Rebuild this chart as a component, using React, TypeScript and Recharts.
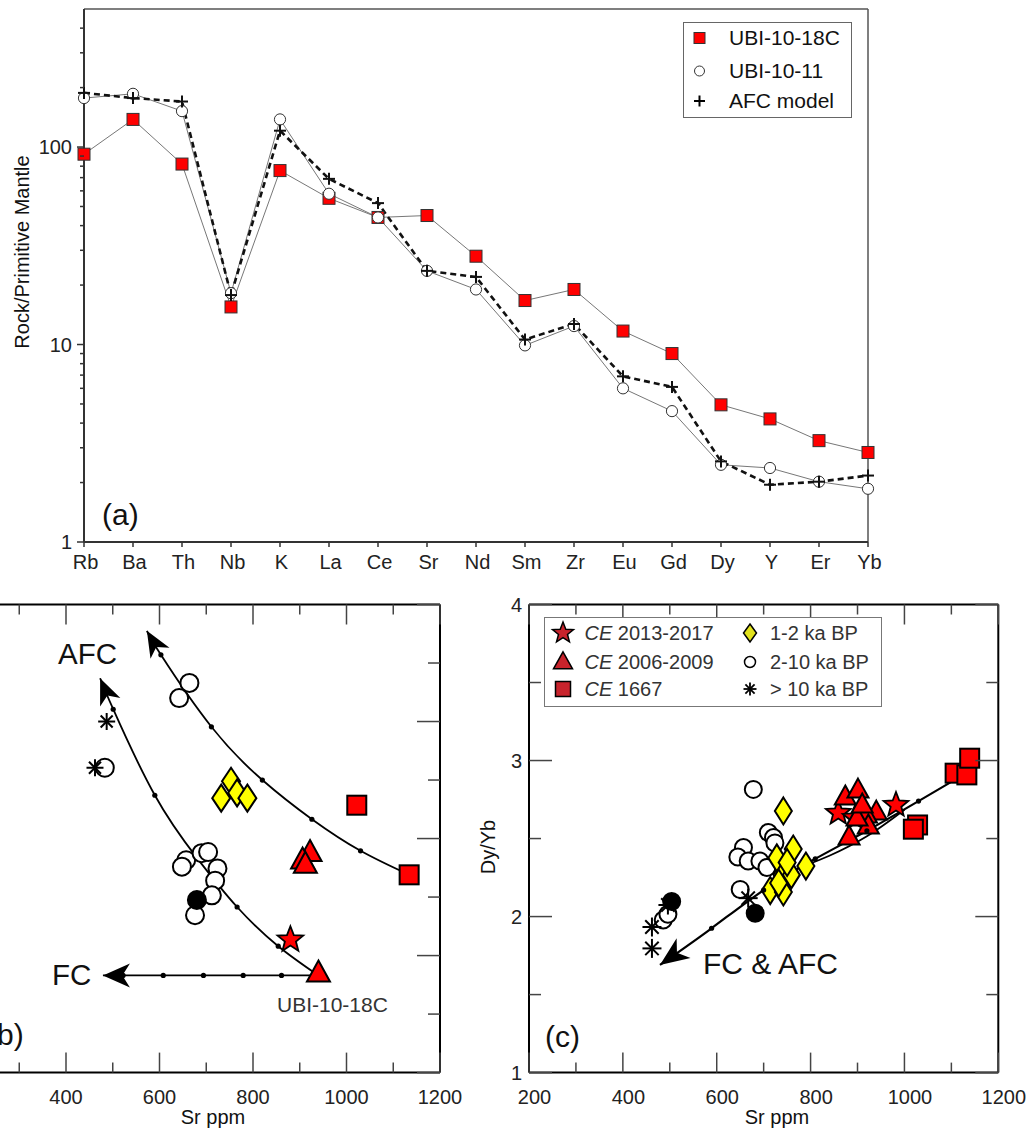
import React from "react";
import { ComposedChart, Line, Scatter, XAxis, YAxis, Legend, ReferenceLine } from "recharts";

const FONT = '"Liberation Sans", Arial, Helvetica, sans-serif';
const RED = "#ff0000";
const YELLOW = "#ffff00";
const LEGEND_RED = "#c8232c";

// ---- (a) primitive-mantle normalised spider diagram ----
const ELEMENTS = ["Rb", "Ba", "Th", "Nb", "K", "La", "Ce", "Sr", "Nd", "Sm", "Zr", "Eu", "Gd", "Dy", "Y", "Er", "Yb"];
const UBI_18C = [92, 138, 82, 15.5, 76, 55, 44, 45, 28, 16.7, 19, 11.7, 9, 4.95, 4.2, 3.26, 2.84];
const UBI_11 = [177, 186, 152, 18.2, 138, 58, 44, 23.6, 19, 9.9, 12.4, 6.0, 4.6, 2.46, 2.37, 2.02, 1.86];
const AFC_MODEL = [188, 177, 170, 17.8, 121, 69, 52, 23.6, 22, 10.6, 12.7, 6.9, 6.1, 2.56, 1.95, 2.02, 2.17];
const SPIDER_TICKS = [1, 2, 3, 4, 5, 6, 7, 8, 9, 10, 20, 30, 40, 50, 60, 70, 80, 90, 100, 200, 300, 400];
const ELEMENT_TICKS = ELEMENTS.map((_, i) => i);

// ---- shared Sr axis ----
const SR_TICKS = [200, 300, 400, 500, 600, 700, 800, 900, 1000, 1100, 1200];

// ---- (b) 87Sr/86Sr vs Sr ----
const ISO_TICKS = [0.7062, 0.7063, 0.7064, 0.7065, 0.7066, 0.7067, 0.7068, 0.7069, 0.707];
const B_CE1667 = [[1134, 0.706538], [1022, 0.706657]];
const B_CE2006 = [[940, 0.70637], [922, 0.706576], [906, 0.706563], [912, 0.706556]];
const B_CE2013 = [[880, 0.706427]];
const B_KA1_2 = [[753, 0.706698], [766, 0.706678], [732, 0.706669], [788, 0.706669]];
const B_KA2_10 = [[664, 0.706866], [642, 0.70684], [657, 0.706563], [648, 0.706552], [690, 0.706575], [704, 0.706577], [724, 0.706549], [719, 0.706528], [712, 0.706503], [676, 0.706469], [483, 0.706721]];
const B_FILLED = [[680, 0.706495]];
const B_KA10 = [[487, 0.7068], [462, 0.706721]];
const B_FC = [[940, 0.706366], [861, 0.706366], [779, 0.706366], [694, 0.706366], [608, 0.706366], [522, 0.706366], [479, 0.706366]];
const B_AFC_LOW = [[940, 0.706366], [854, 0.706416], [766, 0.706483], [680, 0.706567], [590, 0.706674], [501, 0.706821], [473, 0.706874]];
const B_AFC_HIGH = [[1134, 0.706538], [1030, 0.706579], [926, 0.706633], [820, 0.7067], [711, 0.706791], [603, 0.706914], [573, 0.706955]];

// ---- (c) Dy/Yb vs Sr ----
const DYYB_TICKS = [1, 1.5, 2, 2.5, 3, 3.5, 4];
const C_CE1667 = [[1108, 2.919], [1133, 2.908], [1139, 3.015], [1028, 2.587], [1019, 2.56]];
const C_CE2006 = [[874, 2.767], [901, 2.811], [940, 2.67], [919, 2.651], [923, 2.581], [882, 2.51], [899, 2.632], [910, 2.715]];
const C_CE2013 = [[859, 2.664], [982, 2.715], [895, 2.632]];
const C_KA1_2 = [[742, 2.677], [763, 2.433], [790, 2.324], [739, 2.27], [759, 2.267], [728, 2.376], [750, 2.347], [714, 2.167], [742, 2.158], [732, 2.215]];
const C_KA2_10 = [[678, 2.815], [710, 2.539], [721, 2.507], [724, 2.472], [657, 2.443], [645, 2.382], [667, 2.356], [692, 2.356], [707, 2.315], [650, 2.174], [486, 1.978], [496, 2.015]];
const C_FILLED = [[504, 2.096], [682, 2.021]];
const C_KA10 = [[462, 1.933], [462, 1.796], [496, 2.074], [667, 2.118]];
const C_FC_AFC = [[1098, 2.86], [1030, 2.74], [920, 2.55], [810, 2.37], [700, 2.17], [589, 1.925], [479, 1.69]];
const C_AFC_BRANCH = [[1000, 2.685], [920, 2.515], [840, 2.39], [790, 2.33]];

const toPts = (rows: number[][]) => rows.map(([sr, v]) => ({ sr, v }));

const spiderData = ELEMENTS.map((el, i) => ({ i, el, s18: UBI_18C[i], s11: UBI_11[i], afc: AFC_MODEL[i] }));

// ---- marker shapes ----
function Square({ cx, cy, size, fill, stroke = "#000", sw = 2 }: any) {
  return <rect x={cx - size / 2} y={cy - size / 2} width={size} height={size} fill={fill} stroke={stroke} strokeWidth={sw} />;
}
function Triangle({ cx, cy, w, h, fill, stroke = "#000", sw = 2 }: any) {
  const top = cy - h * 0.6;
  const base = cy + h * 0.4;
  return <polygon points={`${cx},${top} ${cx + w / 2},${base} ${cx - w / 2},${base}`} fill={fill} stroke={stroke} strokeWidth={sw} />;
}
function Star({ cx, cy, r, fill, stroke = "#000", sw = 1.8 }: any) {
  const pts: string[] = [];
  for (let k = 0; k < 10; k++) {
    const rad = k % 2 === 0 ? r : r * 0.43;
    const a = -Math.PI / 2 + (k * Math.PI) / 5;
    pts.push(`${cx + rad * Math.cos(a)},${cy + rad * Math.sin(a)}`);
  }
  return <polygon points={pts.join(" ")} fill={fill} stroke={stroke} strokeWidth={sw} />;
}
function Diamond({ cx, cy, w, h, fill, stroke = "#000", sw = 2 }: any) {
  return <polygon points={`${cx},${cy - h / 2} ${cx + w / 2},${cy} ${cx},${cy + h / 2} ${cx - w / 2},${cy}`} fill={fill} stroke={stroke} strokeWidth={sw} />;
}
function Ring({ cx, cy, r, fill = "#fff", stroke = "#000", sw = 2 }: any) {
  return <circle cx={cx} cy={cy} r={r} fill={fill} stroke={stroke} strokeWidth={sw} />;
}
function Asterisk({ cx, cy, r, sw = 2, stroke = "#000" }: any) {
  const d = r * Math.SQRT1_2;
  return (
    <g stroke={stroke} strokeWidth={sw}>
      <line x1={cx - r} y1={cy} x2={cx + r} y2={cy} />
      <line x1={cx} y1={cy - r} x2={cx} y2={cy + r} />
      <line x1={cx - d} y1={cy - d} x2={cx + d} y2={cy + d} />
      <line x1={cx - d} y1={cy + d} x2={cx + d} y2={cy - d} />
    </g>
  );
}
function Plus({ cx, cy, r, sw = 2, stroke = "#000" }: any) {
  return (
    <g stroke={stroke} strokeWidth={sw}>
      <line x1={cx - r} y1={cy} x2={cx + r} y2={cy} />
      <line x1={cx} y1={cy - r} x2={cx} y2={cy + r} />
    </g>
  );
}

// model curve: small dots at the steps, arrowhead at the end
function curveDot(len: number, half: number) {
  return (p: any) => {
    const { cx, cy, index, points } = p;
    const key = `cd-${index}`;
    const n = points ? points.length : 0;
    if (index === 0 || cx == null) return <g key={key} />;
    if (index === n - 1) {
      const prev = points[n - 2];
      const dx = cx - prev.x;
      const dy = cy - prev.y;
      const d = Math.hypot(dx, dy) || 1;
      const ux = dx / d;
      const uy = dy / d;
      const bx = cx - ux * len;
      const by = cy - uy * len;
      const nx = cx - ux * len * 0.72;
      const ny = cy - uy * len * 0.72;
      return (
        <polygon
          key={key}
          points={`${cx},${cy} ${bx - uy * half},${by + ux * half} ${nx},${ny} ${bx + uy * half},${by - ux * half}`}
          fill="#000"
        />
      );
    }
    return <circle key={key} cx={cx} cy={cy} r={2.6} fill="#000" />;
  };
}

// ---- axis ticks drawn inward / outward with custom lengths ----
type Side = "bottom" | "top" | "left" | "right";
const DIRS: Record<Side, [number, number]> = { bottom: [0, -1], top: [0, 1], left: [1, 0], right: [-1, 0] };

function frameTick(
  side: Side,
  isMajor: (v: number) => boolean,
  long: number,
  short: number,
  opts: { outward?: boolean; label?: (v: number) => string | null; gap?: number; dx?: number; color?: string } = {}
) {
  return (props: any) => {
    const { x, y, payload, index } = props;
    const v = payload.value as number;
    const len = isMajor(v) ? long : short;
    const [ux, uy] = DIRS[side];
    const s = opts.outward ? -1 : 1;
    const text = opts.label ? opts.label(v) : null;
    const gap = opts.gap ?? 0;
    let label = null;
    if (text !== null) {
      label =
        side === "bottom" ? (
          <text x={x + (opts.dx ?? 0)} y={y + gap} textAnchor="middle" fontSize={20} fill="#222" fontFamily={FONT}>
            {text}
          </text>
        ) : (
          <text x={x - gap} y={y} dy="0.35em" textAnchor="end" fontSize={20} fill="#222" fontFamily={FONT}>
            {text}
          </text>
        );
    }
    return (
      <g key={`t-${side}-${index}`}>
        <line x1={x} y1={y} x2={x + s * ux * len} y2={y + s * uy * len} stroke={opts.color ?? "#444"} strokeWidth={1.5} />
        {label}
      </g>
    );
  };
}

const srMajor = (v: number) => v % 200 === 0;
const srLabel = (v: number) => (v % 200 === 0 ? String(v) : null);
const srLabelCut = (v: number) => (v % 200 === 0 && v > 200 ? String(v) : null);
const isoMajor = (v: number) => Math.round(v * 1e4) % 2 === 0;
const dyMajor = (v: number) => Number.isInteger(v);
const frameLine = { stroke: "#000", strokeWidth: 2 };
const hiddenShape = () => <g />;

// ---- legends ----
function SpiderLegend() {
  const rows = [
    { y: 14.5, label: "UBI-10-18C", sym: <Square cx={15.5} cy={12} size={11} fill={RED} stroke="#333" sw={1} /> },
    { y: 47.5, label: "UBI-10-11", sym: <Ring cx={15.5} cy={12} r={5} stroke="#333" sw={1} /> },
    { y: 77.5, label: "AFC model", sym: <Plus cx={15.5} cy={12} r={5.5} sw={2} /> },
  ];
  return (
    <div style={{ position: "relative", width: 169, height: 96, boxSizing: "border-box", border: "1.5px solid #666", background: "#fff", fontFamily: FONT, fontSize: 21, color: "#111" }}>
      {rows.map((r) => (
        <div key={r.label} style={{ position: "absolute", left: 0, top: r.y - 12, height: 24, width: 166 }}>
          <svg width={31} height={24} style={{ position: "absolute", left: 0, top: 0 }}>
            {r.sym}
          </svg>
          <span style={{ position: "absolute", left: 45, top: 0, lineHeight: "24px", whiteSpace: "nowrap" }}>{r.label}</span>
        </div>
      ))}
    </div>
  );
}

function PhaseLegend() {
  const items = [
    { x: 17.8, tx: 39.5, y: 15, label: <><i>CE</i> 2013-2017</>, sym: <Star cx={14} cy={14} r={11} fill={LEGEND_RED} sw={1.5} /> },
    { x: 17.8, tx: 39.5, y: 43.5, label: <><i>CE</i> 2006-2009</>, sym: <Triangle cx={14} cy={14} w={19} h={17} fill={LEGEND_RED} sw={1.5} /> },
    { x: 17.8, tx: 39.5, y: 71.3, label: <><i>CE</i> 1667</>, sym: <Square cx={14} cy={14} size={15} fill={LEGEND_RED} sw={1.5} /> },
    { x: 204.5, tx: 225, y: 15, label: "1-2 ka BP", sym: <Diamond cx={14} cy={14} w={13} h={18} fill="#e2e21c" sw={1.5} /> },
    { x: 204.5, tx: 225, y: 43.5, label: "2-10 ka BP", sym: <Ring cx={14} cy={14} r={5.5} sw={1.5} /> },
    { x: 204.5, tx: 225, y: 71.3, label: "> 10 ka BP", sym: <Asterisk cx={14} cy={14} r={6.5} sw={1.8} /> },
  ];
  return (
    <div style={{ position: "relative", width: 338, height: 90, boxSizing: "border-box", border: "1.5px solid #777", background: "#fff", fontFamily: FONT, fontSize: 20, color: "#333" }}>
      {items.map((it, k) => (
        <div key={k}>
          <svg width={28} height={28} style={{ position: "absolute", left: it.x - 14, top: it.y - 14 }}>
            {it.sym}
          </svg>
          <span style={{ position: "absolute", left: it.tx, top: it.y - 12, lineHeight: "24px", whiteSpace: "nowrap" }}>{it.label}</span>
        </div>
      ))}
    </div>
  );
}

// ---- panels ----
function SpiderPanel() {
  return (
    <ComposedChart width={1033} height={600} data={spiderData} margin={{ top: 9, right: 165, bottom: 0, left: 0 }}>
      <XAxis
        dataKey="i"
        type="number"
        domain={[0, 16]}
        ticks={ELEMENT_TICKS}
        interval={0}
        height={58}
        tickSize={0}
        tickMargin={0}
        tickLine={false}
        axisLine={{ stroke: "#333", strokeWidth: 2 }}
        tick={frameTick("bottom", () => true, 5, 5, { outward: true, label: (v) => ELEMENTS[v], gap: 27, dx: 1.5, color: "#333" })}
      />
      <YAxis
        type="number"
        scale="log"
        domain={[1, 500]}
        allowDataOverflow
        ticks={SPIDER_TICKS}
        interval={0}
        width={84}
        tickSize={0}
        tickMargin={0}
        tickLine={false}
        axisLine={{ stroke: "#333", strokeWidth: 2 }}
        tick={frameTick("left", (v) => v === 1 || v === 10 || v === 100, 7, 4, {
          outward: true,
          label: (v) => (v === 1 || v === 10 || v === 100 ? String(v) : null),
          gap: 12,
          color: "#333",
        })}
      />
      <ReferenceLine y={500} stroke="#555" strokeWidth={1.5} />
      <ReferenceLine x={16} stroke="#555" strokeWidth={1.5} />
      <Legend verticalAlign="middle" align="center" layout="horizontal" wrapperStyle={{ left: 683, top: 22, width: 169, height: 96 }} content={() => <SpiderLegend />} />
      <Line dataKey="s18" name="UBI-10-18C" stroke="#777" strokeWidth={1} isAnimationActive={false} activeDot={false}
        dot={(p: any) => <Square key={`s18-${p.index}`} cx={p.cx} cy={p.cy} size={12} fill={RED} stroke="#333" sw={1} />} />
      <Line dataKey="s11" name="UBI-10-11" stroke="#777" strokeWidth={1} isAnimationActive={false} activeDot={false}
        dot={(p: any) => <Ring key={`s11-${p.index}`} cx={p.cx} cy={p.cy} r={5.6} stroke="#333" sw={1} />} />
      <Line dataKey="afc" name="AFC model" stroke="#111" strokeWidth={2.6} strokeDasharray="6 4" isAnimationActive={false} activeDot={false}
        dot={(p: any) => <Plus key={`afc-${p.index}`} cx={p.cx} cy={p.cy} r={6} sw={2} stroke="#111" />} />
    </ComposedChart>
  );
}

// top and right frame axes are 1px thick: Recharts skips axes of zero size
function IsotopePanel() {
  return (
    <ComposedChart width={600} height={640} margin={{ top: 43.5, right: 39, bottom: 77, left: 32.5 }}>
      <XAxis dataKey="sr" type="number" domain={[200, 1200]} ticks={SR_TICKS} interval={0} height={50.4} tickSize={0} tickMargin={0} tickLine={false}
        axisLine={frameLine} tick={frameTick("bottom", srMajor, 20, 10, { label: srLabelCut, gap: 31.5 })} />
      <XAxis xAxisId="top" dataKey="sr" orientation="top" type="number" domain={[200, 1200]} ticks={SR_TICKS} interval={0} height={1} tickSize={0} tickMargin={0} tickLine={false}
        axisLine={frameLine} tick={frameTick("top", srMajor, 20, 10)} />
      <YAxis dataKey="v" type="number" domain={[0.7062, 0.707]} ticks={ISO_TICKS} interval={0} width={60} tickSize={0} tickMargin={0} tickLine={false}
        axisLine={frameLine} tick={frameTick("left", isoMajor, 23, 12)} />
      <YAxis yAxisId="right" dataKey="v" orientation="right" type="number" domain={[0.7062, 0.707]} ticks={ISO_TICKS} interval={0} width={1} tickSize={0} tickMargin={0} tickLine={false}
        axisLine={frameLine} tick={frameTick("right", isoMajor, 23, 12)} />
      {/* binds the top and right frame axes */}
      <Scatter data={toPts(B_CE1667)} xAxisId="top" yAxisId="right" isAnimationActive={false} legendType="none" shape={hiddenShape} />
      <Line data={toPts(B_AFC_HIGH)} dataKey="v" type="natural" stroke="#000" strokeWidth={1.8} isAnimationActive={false} activeDot={false} legendType="none" dot={curveDot(26, 11)} />
      <Line data={toPts(B_AFC_LOW)} dataKey="v" type="natural" stroke="#000" strokeWidth={1.8} isAnimationActive={false} activeDot={false} legendType="none" dot={curveDot(26, 11)} />
      <Line data={toPts(B_FC)} dataKey="v" type="linear" stroke="#000" strokeWidth={1.8} isAnimationActive={false} activeDot={false} legendType="none" dot={curveDot(27, 12)} />
      <Scatter data={toPts(B_KA2_10)} isAnimationActive={false} shape={(p: any) => <Ring cx={p.cx} cy={p.cy} r={9} />} />
      <Scatter data={toPts(B_FILLED)} isAnimationActive={false} shape={(p: any) => <Ring cx={p.cx} cy={p.cy} r={9} fill="#000" />} />
      <Scatter data={toPts(B_KA10)} isAnimationActive={false} shape={(p: any) => <Asterisk cx={p.cx} cy={p.cy} r={8.5} />} />
      <Scatter data={toPts(B_KA1_2)} isAnimationActive={false} shape={(p: any) => <Diamond cx={p.cx} cy={p.cy} w={18} h={27} fill={YELLOW} />} />
      <Scatter data={toPts(B_CE2013)} isAnimationActive={false} shape={(p: any) => <Star cx={p.cx} cy={p.cy} r={13.5} fill={RED} />} />
      <Scatter data={toPts(B_CE2006)} isAnimationActive={false} shape={(p: any) => <Triangle cx={p.cx} cy={p.cy} w={23} h={21} fill={RED} />} />
      <Scatter data={toPts(B_CE1667)} isAnimationActive={false} shape={(p: any) => <Square cx={p.cx} cy={p.cy} size={19} fill={RED} />} />
    </ComposedChart>
  );
}

function DyYbPanel() {
  return (
    <ComposedChart width={593} height={640} margin={{ top: 43.5, right: 33.7, bottom: 77, left: 7 }}>
      <XAxis dataKey="sr" type="number" domain={[200, 1200]} ticks={SR_TICKS} interval={0} height={50.4} tickSize={0} tickMargin={0} tickLine={false}
        axisLine={frameLine} tick={frameTick("bottom", srMajor, 20, 10, { label: srLabel, gap: 31.5, dx: 5.5 })} />
      <XAxis xAxisId="top" dataKey="sr" orientation="top" type="number" domain={[200, 1200]} ticks={SR_TICKS} interval={0} height={1} tickSize={0} tickMargin={0} tickLine={false}
        axisLine={frameLine} tick={frameTick("top", srMajor, 20, 10)} />
      <YAxis dataKey="v" type="number" domain={[1, 4]} ticks={DYYB_TICKS} interval={0} width={82} tickSize={0} tickMargin={0} tickLine={false}
        axisLine={frameLine} tick={frameTick("left", dyMajor, 23, 12, { label: (v) => (dyMajor(v) ? String(v) : null), gap: 7 })} />
      <YAxis yAxisId="right" dataKey="v" orientation="right" type="number" domain={[1, 4]} ticks={DYYB_TICKS} interval={0} width={1} tickSize={0} tickMargin={0} tickLine={false}
        axisLine={frameLine} tick={frameTick("right", dyMajor, 23, 12)} />
      <Legend verticalAlign="middle" align="center" layout="horizontal" wrapperStyle={{ left: 104, top: 57, width: 338, height: 90 }} content={() => <PhaseLegend />} />
      <Scatter data={toPts(C_CE1667)} xAxisId="top" yAxisId="right" isAnimationActive={false} legendType="none" shape={hiddenShape} />
      <Line data={toPts(C_FC_AFC)} dataKey="v" type="natural" stroke="#000" strokeWidth={2.2} isAnimationActive={false} activeDot={false} legendType="none" dot={curveDot(29, 12)} />
      <Line data={toPts(C_AFC_BRANCH)} dataKey="v" type="natural" stroke="#000" strokeWidth={1.8} isAnimationActive={false} activeDot={false} legendType="none" dot={false} />
      <Scatter data={toPts(C_KA2_10)} isAnimationActive={false} shape={(p: any) => <Ring cx={p.cx} cy={p.cy} r={8.5} />} />
      <Scatter data={toPts(C_KA10)} isAnimationActive={false} shape={(p: any) => <Asterisk cx={p.cx} cy={p.cy} r={9.5} />} />
      <Scatter data={toPts(C_FILLED)} isAnimationActive={false} shape={(p: any) => <Ring cx={p.cx} cy={p.cy} r={8.5} fill="#000" />} />
      <Scatter data={toPts(C_KA1_2)} isAnimationActive={false} shape={(p: any) => <Diamond cx={p.cx} cy={p.cy} w={17} h={27} fill={YELLOW} />} />
      <Scatter data={toPts(C_CE2013)} isAnimationActive={false} shape={(p: any) => <Star cx={p.cx} cy={p.cy} r={13} fill={RED} />} />
      <Scatter data={toPts(C_CE2006)} isAnimationActive={false} shape={(p: any) => <Triangle cx={p.cx} cy={p.cy} w={21} h={19} fill={RED} />} />
      <Scatter data={toPts(C_CE1667)} isAnimationActive={false} shape={(p: any) => <Square cx={p.cx} cy={p.cy} size={19} fill={RED} />} />
    </ComposedChart>
  );
}

export default function App() {
  return (
    <div style={{ position: "absolute", left: 0, top: 0, width: 1033, height: 1129, overflow: "hidden", background: "#fff", fontFamily: FONT }}>
      <div style={{ position: "absolute", left: 0, top: 0 }}>
        <SpiderPanel />
      </div>
      <div style={{ position: "absolute", left: -120, top: 560 }}>
        <IsotopePanel />
      </div>
      <div style={{ position: "absolute", left: 440, top: 560 }}>
        <DyYbPanel />
      </div>
      <svg width={1033} height={1129} style={{ position: "absolute", left: 0, top: 0, pointerEvents: "none" }} fontFamily={FONT} fill="#111">
        <text x={22} y={252} transform="rotate(-90 22 252)" textAnchor="middle" dominantBaseline="central" fontSize={20}>Rock/Primitive Mantle</text>
        <text x={102} y={525} fontSize={30}>(a)</text>
        <text x={-13} y={1045} fontSize={30}>(b)</text>
        <text x={545} y={1047} fontSize={30}>(c)</text>
        <text x={58} y={664} fontSize={29.5}>AFC</text>
        <text x={52} y={985} fontSize={29.5}>FC</text>
        <text x={277} y={1012} fontSize={21} fill="#333">UBI-10-18C</text>
        <text x={703} y={974} fontSize={30}>FC &amp; AFC</text>
        <text x={213} y={1124} textAnchor="middle" fontSize={20}>Sr ppm</text>
        <text x={777} y={1124} textAnchor="middle" fontSize={20}>Sr ppm</text>
        <text x={488} y={847} transform="rotate(-90 488 847)" textAnchor="middle" dominantBaseline="central" fontSize={20}>Dy/Yb</text>
      </svg>
    </div>
  );
}
